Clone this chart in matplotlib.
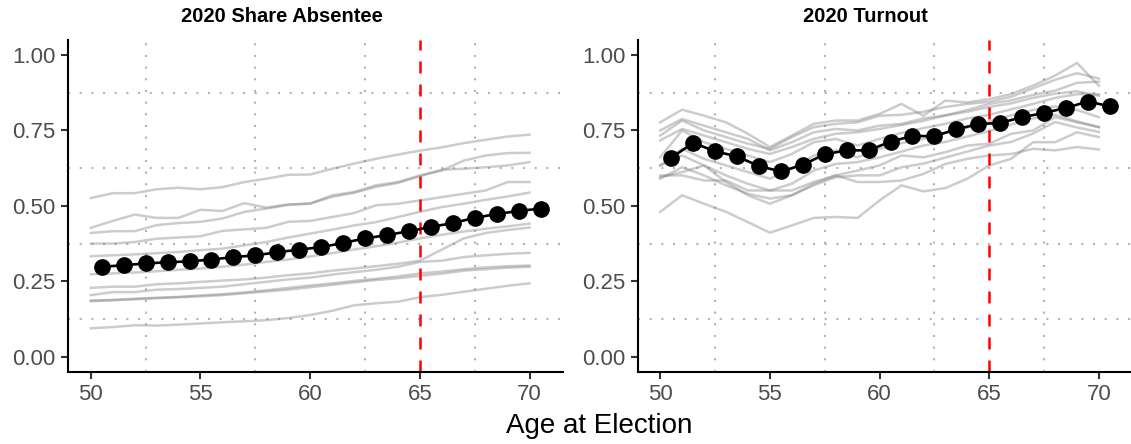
import numpy as np
import matplotlib.pyplot as plt

plt.rcParams['font.family'] = ['Liberation Sans', 'DejaVu Sans']

# ages for the county lines and for the pooled mean
AGES = [50, 51, 52, 53, 54, 55, 56, 57, 58, 59, 60,
        61, 62, 63, 64, 65, 66, 67, 68, 69, 70]
MEAN_AGES = [50.5, 51.5, 52.5, 53.5, 54.5, 55.5, 56.5, 57.5, 58.5, 59.5, 60.5,
             61.5, 62.5, 63.5, 64.5, 65.5, 66.5, 67.5, 68.5, 69.5, 70.5]

TITLES = ['2020 Share Absentee', '2020 Turnout']

# --- share absentee ---
absentee_mean = [0.298, 0.303, 0.309, 0.313, 0.316, 0.322, 0.330, 0.336, 0.346, 0.355, 0.363,
                 0.377, 0.392, 0.403, 0.416, 0.430, 0.443, 0.460, 0.473, 0.483, 0.491]
absentee_lines = [
    [0.526, 0.542, 0.542, 0.555, 0.560, 0.555, 0.562, 0.579, 0.590, 0.603, 0.604,
     0.623, 0.640, 0.656, 0.670, 0.683, 0.694, 0.708, 0.719, 0.730, 0.736],
    [0.427, 0.450, 0.471, 0.460, 0.460, 0.487, 0.483, 0.509, 0.494, 0.505, 0.507,
     0.535, 0.546, 0.568, 0.579, 0.601, 0.617, 0.650, 0.667, 0.675, 0.676],
    [0.410, 0.416, 0.416, 0.436, 0.443, 0.447, 0.458, 0.480, 0.491, 0.503, 0.508,
     0.530, 0.543, 0.563, 0.576, 0.598, 0.620, 0.623, 0.628, 0.634, 0.645],
    [0.375, 0.375, 0.380, 0.391, 0.395, 0.399, 0.417, 0.422, 0.427, 0.447, 0.450,
     0.463, 0.476, 0.502, 0.507, 0.518, 0.529, 0.540, 0.551, 0.579, 0.579],
    [0.333, 0.336, 0.339, 0.343, 0.347, 0.353, 0.358, 0.369, 0.380, 0.395, 0.408,
     0.421, 0.435, 0.446, 0.463, 0.480, 0.496, 0.507, 0.520, 0.531, 0.544],
    [0.273, 0.276, 0.279, 0.283, 0.288, 0.292, 0.298, 0.305, 0.314, 0.322, 0.332,
     0.343, 0.355, 0.366, 0.378, 0.392, 0.404, 0.415, 0.424, 0.432, 0.441],
    [0.228, 0.232, 0.232, 0.240, 0.243, 0.248, 0.252, 0.256, 0.262, 0.270, 0.276,
     0.285, 0.292, 0.300, 0.308, 0.318, 0.355, 0.392, 0.410, 0.420, 0.428],
    [0.204, 0.214, 0.214, 0.222, 0.224, 0.228, 0.232, 0.240, 0.248, 0.256, 0.262,
     0.272, 0.280, 0.288, 0.298, 0.314, 0.318, 0.330, 0.336, 0.341, 0.344],
    [0.184, 0.187, 0.190, 0.194, 0.197, 0.200, 0.204, 0.210, 0.216, 0.222, 0.230,
     0.238, 0.246, 0.254, 0.260, 0.268, 0.275, 0.285, 0.290, 0.295, 0.298],
    [0.186, 0.188, 0.192, 0.195, 0.198, 0.203, 0.207, 0.213, 0.220, 0.228, 0.236,
     0.243, 0.251, 0.258, 0.266, 0.276, 0.282, 0.290, 0.296, 0.300, 0.302],
    [0.094, 0.098, 0.104, 0.103, 0.106, 0.110, 0.114, 0.117, 0.121, 0.128, 0.138,
     0.152, 0.170, 0.177, 0.182, 0.197, 0.205, 0.215, 0.225, 0.235, 0.243],
]

# --- turnout ---
turnout_mean = [0.659, 0.709, 0.681, 0.664, 0.632, 0.614, 0.636, 0.671, 0.684, 0.684, 0.713,
                0.732, 0.731, 0.754, 0.771, 0.775, 0.794, 0.808, 0.825, 0.846, 0.830]
turnout_lines = [
    [0.777, 0.819, 0.799, 0.777, 0.739, 0.695, 0.733, 0.772, 0.783, 0.783, 0.805,
     0.838, 0.799, 0.849, 0.843, 0.854, 0.871, 0.899, 0.932, 0.974, 0.898],
    [0.750, 0.788, 0.766, 0.744, 0.722, 0.684, 0.711, 0.744, 0.755, 0.750, 0.766,
     0.772, 0.790, 0.800, 0.818, 0.838, 0.850, 0.868, 0.882, 0.908, 0.912],
    [0.733, 0.783, 0.750, 0.728, 0.706, 0.689, 0.728, 0.761, 0.772, 0.777, 0.799,
     0.802, 0.812, 0.828, 0.838, 0.845, 0.862, 0.890, 0.918, 0.940, 0.922],
    [0.717, 0.755, 0.733, 0.711, 0.689, 0.672, 0.695, 0.722, 0.739, 0.744, 0.755,
     0.768, 0.782, 0.800, 0.812, 0.828, 0.840, 0.858, 0.872, 0.880, 0.865],
    [0.661, 0.750, 0.711, 0.689, 0.667, 0.645, 0.672, 0.711, 0.722, 0.700, 0.722,
     0.742, 0.758, 0.772, 0.790, 0.802, 0.820, 0.838, 0.858, 0.870, 0.870],
    [0.634, 0.689, 0.656, 0.634, 0.612, 0.590, 0.623, 0.667, 0.684, 0.661, 0.689,
     0.708, 0.722, 0.742, 0.760, 0.780, 0.800, 0.818, 0.830, 0.818, 0.794],
    [0.595, 0.612, 0.634, 0.601, 0.573, 0.551, 0.573, 0.617, 0.639, 0.645, 0.661,
     0.680, 0.700, 0.712, 0.730, 0.748, 0.770, 0.790, 0.802, 0.780, 0.761],
    [0.590, 0.628, 0.601, 0.568, 0.540, 0.524, 0.535, 0.568, 0.595, 0.601, 0.601,
     0.628, 0.640, 0.660, 0.680, 0.700, 0.712, 0.740, 0.778, 0.760, 0.745],
    [0.601, 0.601, 0.584, 0.584, 0.551, 0.551, 0.551, 0.579, 0.601, 0.579, 0.579,
     0.584, 0.606, 0.639, 0.656, 0.667, 0.672, 0.689, 0.684, 0.695, 0.687],
    [0.634, 0.667, 0.634, 0.579, 0.535, 0.507, 0.535, 0.573, 0.601, 0.617, 0.634,
     0.667, 0.661, 0.678, 0.700, 0.706, 0.739, 0.750, 0.794, 0.777, 0.761],
    [0.480, 0.535, 0.507, 0.480, 0.446, 0.411, 0.435, 0.460, 0.463, 0.460, 0.518,
     0.568, 0.548, 0.559, 0.590, 0.634, 0.656, 0.711, 0.711, 0.744, 0.728],
]

X_TICKS = [50, 55, 60, 65, 70]
Y_TICKS = [0.00, 0.25, 0.50, 0.75, 1.00]
X_MINOR = [52.5, 57.5, 62.5, 67.5]
Y_MINOR = [0.125, 0.375, 0.625, 0.875]
CUTOFF_AGE = 65

W, H = 1131, 444
fig = plt.figure(figsize=(W / 100, H / 100), dpi=100)

ax_w = (563 - 68.3) / W
ax_h = (371.7 - 40) / H
ax_b = (H - 371.7) / H
axes = [fig.add_axes([68.3 / W, ax_b, ax_w, ax_h]),
        fig.add_axes([637.7 / W, ax_b, ax_w, ax_h])]
# titles sit over each whole sub-plot (labels included), not just the panel
title_x = [281.5 / W, 865 / W]

panels = [(absentee_lines, absentee_mean), (turnout_lines, turnout_mean)]

for ax, title, tx, (lines, mean) in zip(axes, TITLES, title_x, panels):
    for x in X_MINOR:
        ax.axvline(x, color='#b3b3b3', lw=1.5, linestyle=(0, (1, 4.6)), zorder=0)
    for y in Y_MINOR:
        ax.axhline(y, color='#b3b3b3', lw=1.5, linestyle=(0, (1, 4.6)), zorder=0)

    for vals in lines:
        ax.plot(AGES, vals, color='gray', alpha=0.4, lw=1.8, zorder=1)

    ax.axvline(CUTOFF_AGE, color='red', lw=1.8, dashes=(4.8, 4.4), zorder=2)

    ax.plot(MEAN_AGES, mean, color='black', lw=1.9, marker='o',
            markersize=11, zorder=3)

    ax.set_xlim(48.975, 71.525)
    ax.set_ylim(-0.05, 1.05)
    ax.set_xticks(X_TICKS)
    ax.set_yticks(Y_TICKS)
    ax.set_yticklabels([f'{v:.2f}' for v in Y_TICKS])
    ax.tick_params(axis='both', labelsize=16, labelcolor='#4d4d4d',
                   color='#333333', width=1.5, length=5, pad=4)
    for side in ['top', 'right']:
        ax.spines[side].set_visible(False)
    for side in ['left', 'bottom']:
        ax.spines[side].set_linewidth(1.5)
    fig.text(tx, (H - 16) / H, title, ha='center', va='center',
             fontsize=14.5, fontweight='bold')

fig.text((68.3 + 1131) / 2 / W, 0.012, 'Age at Election', ha='center',
         va='bottom', fontsize=20)

fig.savefig('out.png', dpi=100)
